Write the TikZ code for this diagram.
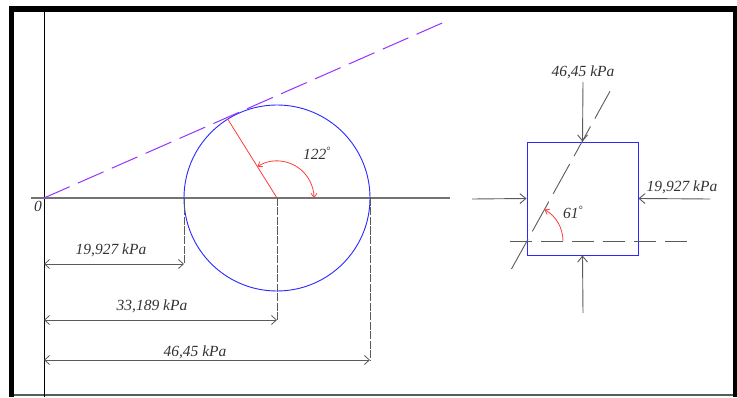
\documentclass[tikz,border=0pt]{standalone}
\usepackage{fontspec}
\setmainfont{Liberation Serif}
\usetikzlibrary{arrows.meta,calc}
\definecolor{purp}{RGB}{150,50,255}
\definecolor{ln}{RGB}{90,90,90}
\definecolor{tx}{RGB}{50,50,50}
\definecolor{mblue}{RGB}{40,40,255}
\definecolor{mred}{RGB}{255,60,60}
\begin{document}
\begin{tikzpicture}[x=1pt,y=1pt,
  lbl/.style={font=\fontsize{15.5}{17}\selectfont\itshape, text=tx, inner sep=0pt},
  dimline/.style={{Straight Barb[length=5pt,width=9pt]}-{Straight Barb[length=5pt,width=9pt]}, draw=ln, line width=0.8pt},
  extline/.style={draw=ln, line width=0.8pt, dash pattern=on 8pt off 1.5pt},
  load/.style={-{Straight Barb[length=6pt,width=10pt]}, draw=ln, line width=0.9pt},
  anglearc/.style={draw=mred, line width=0.8pt},
  refdash/.style={draw=ln, line width=0.9pt, dash pattern=on 22pt off 9pt},
  incldash/.style={draw=ln, line width=0.9pt, dash pattern=on 34pt off 9pt}]
\useasboundingbox (0,0) rectangle (737,397);
% frame
\fill[black] (9,385) rectangle (737,391);
\fill[black] (9,0) rectangle (14,391);
\fill[black] (733,0) rectangle (737,391);
\draw[ln, line width=1.2pt] (14,2) -- (733,2);
% axes
\coordinate (O) at (44,199);
\coordinate (Vtop) at (44,385);
\coordinate (Vbot) at (44,0);
\coordinate (Hl) at (31,199);
\coordinate (Hr) at (450,199);
\draw[black, line width=0.8pt] (Vtop) -- (Vbot);
\draw[black!55, line width=1.2pt] (Hl) -- (Hr);
\node[lbl] (zero) at (38,191) {0};
% Mohr circle
\coordinate (C) at (277,199);
\coordinate (S3) at (184,199);
\coordinate (S1) at (370,199);
\draw[mblue, line width=0.9pt] (C) circle[radius=93];
% tangent (purple dashed)
\coordinate (Tend) at (449,377);
\draw[purp, line width=1pt, dash pattern=on 28pt off 9pt] (O) -- (Tend);
% radius at 122 deg
\coordinate (P) at ($(C)+(122:93)$);
\draw[mred, line width=0.8pt] (C) -- (P);
\draw[anglearc, {Straight Barb[length=4pt,width=6pt]}-{Straight Barb[length=4pt,width=6pt]}] ($(C)+(122:37)$) arc[start angle=122, end angle=0, radius=37];
\node[lbl] (a122) at (317,244) {122\raisebox{5pt}{\fontsize{11}{11}\selectfont\upshape °}};
% extension lines
\coordinate (E3) at (184,133);
\coordinate (EC) at (277,77);
\coordinate (E1) at (370,37);
\draw[extline] (S3) -- (E3);
\draw[extline] (C) -- (EC);
\draw[extline] (S1) -- (E1);
% dimension lines
\coordinate (D3) at (44,133);
\coordinate (DC) at (44,77);
\coordinate (D1) at (44,37);
\draw[dimline] (D3) -- (E3);
\draw[dimline] (DC) -- (EC);
\draw[dimline] (D1) -- (E1);
\node[lbl] (l3) at (111,147) {19,927 kPa};
\node[lbl] (lc) at (152,91) {33,189 kPa};
\node[lbl] (l1) at (195,45) {46,45 kPa};
% element
\node[draw=mblue, line width=0.9pt, minimum width=111pt, minimum height=113pt, inner sep=0pt] (el) at (582.5,198.5) {};
\coordinate (Tt) at (583,315);
\coordinate (Bt) at (583,84);
\coordinate (Lt) at (472,198);
\coordinate (Rt) at (710,198);
\draw[load] (Tt) -- (el.north);
\draw[load] (Bt) -- (el.south);
\draw[load] (Lt) -- (el.west);
\draw[load] (Rt) -- (el.east);
\node[lbl] (ltop) at (583,325) {46,45 kPa};
\node[lbl] (lright) at (682,210) {19,927 kPa};
% reference line and plane
\coordinate (Q) at (527,156);
\coordinate (Hd1) at (510,156);
\coordinate (Hd2) at (691,156);
\draw[refdash] (Hd1) -- (Hd2);
\coordinate (Ia) at ($(Q)+(241:32)$);
\coordinate (Ib) at ($(Q)+(61:171)$);
\draw[incldash] (Ia) -- (Ib);
\draw[anglearc, -{Straight Barb[length=4pt,width=6pt]}] ($(Q)+(0:36)$) arc[start angle=0, end angle=61, radius=36];
\node[lbl] (a61) at (573,185) {61\raisebox{5pt}{\fontsize{11}{11}\selectfont\upshape °}};
\end{tikzpicture}
\end{document}
